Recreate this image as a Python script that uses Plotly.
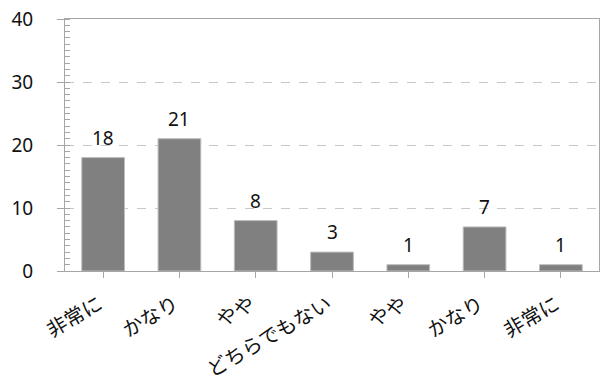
import plotly.graph_objects as go

# Survey responses per answer category
categories = ["非常に", "かなり", "やや", "どちらでもない", "やや", "かなり", "非常に"]
counts = [18, 21, 8, 3, 1, 7, 1]
y_ticks = [0, 10, 20, 30, 40]

x_pos = list(range(len(categories)))

num_font = "Noto Sans, DejaVu Sans, sans-serif"
jp_font = "Noto Sans CJK JP, sans-serif"
axis_gray = "#a6a6a6"

fig = go.Figure(
    go.Bar(
        x=x_pos,
        y=counts,
        marker=dict(color="#808080", line=dict(color="#bdbdbd", width=1)),
        width=0.56,
        hoverinfo="x+y",
    )
)

# Value labels above each bar
for xi, v in zip(x_pos, counts):
    fig.add_annotation(
        x=xi, y=v, xref="x", yref="y",
        text=str(v), showarrow=False,
        xanchor="center", yanchor="bottom", yshift=5,
        font=dict(family=num_font, size=19, color="#111111"),
    )

# Slanted category labels, right end tucked under each category centre
for xi, lab in zip(x_pos, categories):
    fig.add_annotation(
        x=xi, y=0, xref="x", yref="paper",
        text=lab, showarrow=False, textangle=-30,
        xanchor="right", yanchor="top", xshift=5, yshift=-16,
        font=dict(family=jp_font, size=20, color="#111111"),
        borderpad=0,
    )

fig.update_xaxes(
    range=[-0.5, len(categories) - 0.5],
    tickmode="array",
    tickvals=x_pos,
    ticktext=["" for _ in categories],
    tickson="boundaries",
    ticks="outside",
    ticklen=6,
    tickcolor=axis_gray,
    showline=True,
    linecolor=axis_gray,
    linewidth=1,
    mirror=True,
    showgrid=False,
    zeroline=False,
)

fig.update_yaxes(
    range=[0, 40],
    tickmode="array",
    tickvals=y_ticks,
    ticktext=[str(t) for t in y_ticks],
    tickfont=dict(family=num_font, size=19, color="#111111"),
    ticks="outside",
    ticklen=7,
    tickcolor=axis_gray,
    ticklabelstandoff=20,
    showline=True,
    linecolor=axis_gray,
    linewidth=1,
    mirror=True,
    showgrid=True,
    gridcolor="#c8c8c8",
    griddash="dash",
    gridwidth=1,
    zeroline=False,
    minor=dict(ticks="inside", dtick=1, ticklen=5, tickcolor=axis_gray, showgrid=False),
)

fig.update_layout(
    width=606,
    height=385,
    margin=dict(l=65, r=6, t=17, b=114),
    paper_bgcolor="white",
    plot_bgcolor="white",
    showlegend=False,
)

fig.write_html("out.html")
